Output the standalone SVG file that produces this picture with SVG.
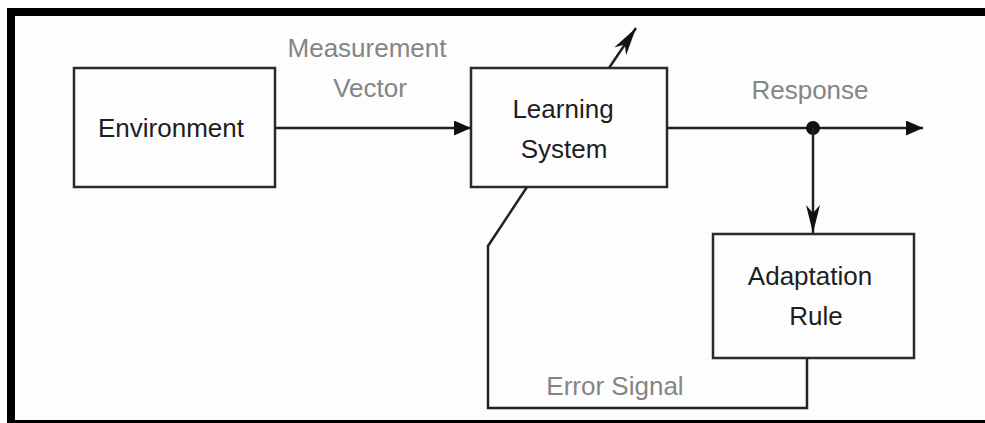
<svg xmlns="http://www.w3.org/2000/svg" width="985" height="423" viewBox="0 0 985 423">
  <style>
    .box { fill: none; stroke: #2a2a2a; stroke-width: 2.5; }
    .wire { fill: none; stroke: #222; stroke-width: 2.5; }
    .node-label { font-family: "Liberation Sans", Arial, sans-serif; font-size: 26px; fill: #1e1e1e; text-anchor: middle; }
    .edge-label { font-family: "Liberation Sans", Arial, sans-serif; font-size: 26px; fill: #858585; text-anchor: middle; }
  </style>
  <defs>
    <marker id="tri" markerUnits="userSpaceOnUse" markerWidth="17" markerHeight="15" refX="17" refY="7.5" orient="auto">
      <path d="M0,0 L17,7.5 L0,15 z" fill="#111"/>
    </marker>
    <marker id="stealth" markerUnits="userSpaceOnUse" markerWidth="28" markerHeight="14" refX="28" refY="7" orient="auto">
      <path d="M0,0 L28,7 L0,14 L8,7 z" fill="#111"/>
    </marker>
  </defs>

  <rect x="0" y="0" width="985" height="423" fill="#ffffff"/>
  <!-- heavy outer frame -->
  <rect x="11" y="12" width="990" height="412" fill="#fdfdfd" stroke="#000" stroke-width="8"/>

  <g id="connectors">
    <path class="wire" d="M276,128 H471" marker-end="url(#tri)"/>
    <path class="wire" d="M667,128 H923" marker-end="url(#tri)"/>
    <circle cx="813" cy="128" r="7" fill="#111"/>
    <path class="wire" d="M813,128 V233" marker-end="url(#stealth)"/>
    <path class="wire" d="M609,68 L636,28" marker-end="url(#stealth)"/>
    <path class="wire" d="M807,359 V408 H488 V246 L527,187"/>
    <text class="edge-label" x="367" y="57">Measurement</text>
    <text class="edge-label" x="370" y="97">Vector</text>
    <text class="edge-label" x="810" y="99">Response</text>
    <text class="edge-label" x="615" y="395">Error Signal</text>
  </g>

  <g id="environment">
    <rect class="box" x="74" y="68" width="201" height="119"/>
    <text class="node-label" x="171" y="137">Environment</text>
  </g>

  <g id="learning-system">
    <rect class="box" x="471" y="68" width="196" height="119"/>
    <text class="node-label" x="563" y="118">Learning</text>
    <text class="node-label" x="564" y="158">System</text>
  </g>

  <g id="adaptation-rule">
    <rect class="box" x="713" y="234" width="201" height="124"/>
    <text class="node-label" x="810" y="285">Adaptation</text>
    <text class="node-label" x="816" y="325">Rule</text>
  </g>
</svg>
